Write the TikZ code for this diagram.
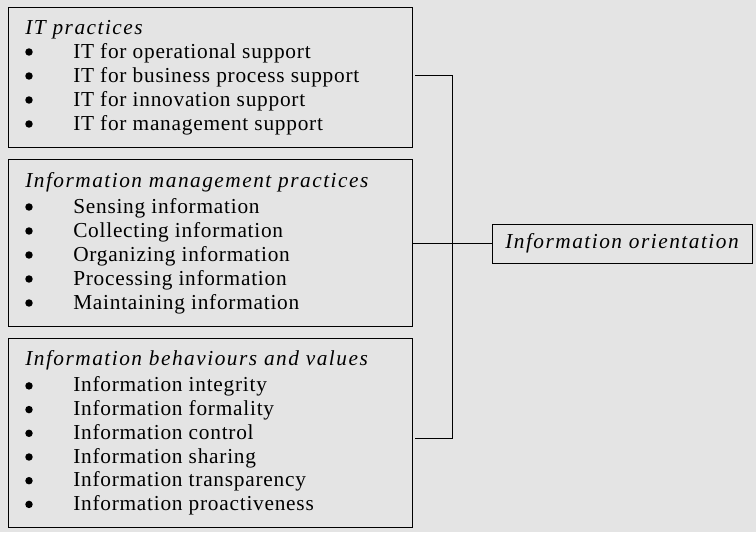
\documentclass[tikz,border=0pt]{standalone}
\usepackage{fontspec}
\setmainfont{Liberation Serif}[LetterSpace=3.5, ItalicFeatures={LetterSpace=7}]
\definecolor{paper}{RGB}{228,228,228}
\newcommand\txtsize{\fontsize{16}{19}\selectfont}
\begin{document}
\begin{tikzpicture}[x=0.75pt,y=-0.75pt,
  panel/.style={draw, line width=0.6pt, fill=paper, inner sep=0pt},
  head/.style={anchor=base west, inner sep=0pt, font=\txtsize\itshape},
  item/.style={anchor=base west, inner sep=0pt, font=\txtsize},
  dot/.style={circle, fill=black, inner sep=0pt, minimum size=5.6pt},
  wire/.style={line width=0.7pt}]

% page background
\fill[paper] (0,0) rectangle (756,532);
\useasboundingbox (0,0) rectangle (756,532);

% the three groups of practices
\node[panel, anchor=north west, minimum width=303pt, minimum height=105pt] (b1) at (8,7) {};
\node[panel, anchor=north west, minimum width=303pt, minimum height=125.25pt] (b2) at (8,159) {};
\node[panel, anchor=north west, minimum width=303pt, minimum height=141.75pt] (b3) at (8,338) {};

% outcome
\node[panel, minimum width=195pt, minimum height=29.25pt, font=\txtsize\itshape] (io) at (622,243.5) {Information orientation};

% group 1
\node[head] (h1) at (25,34) {IT practices};
\foreach \t [count=\i] in {IT for operational support, IT for business process support, IT for innovation support, IT for management support}{
  \node[item] (a\i) at (73,{34+24*\i}) {\t};
  \node[dot] (da\i) at (29,{34+24*\i-6}) {};
}

% group 2
\node[head] (h2) at (25,187) {Information management practices};
\foreach \t [count=\i] in {Sensing information, Collecting information, Organizing information, Processing information, Maintaining information}{
  \node[item] (m\i) at (73,{189+24*\i}) {\t};
  \node[dot] (dm\i) at (29,{189+24*\i-6}) {};
}

% group 3
\node[head] (h3) at (25,365) {Information behaviours and values};
\foreach \t [count=\i] in {Information integrity, Information formality, Information control, Information sharing, Information transparency, Information proactiveness}{
  \node[item] (v\i) at (73,{368.2+23.7*\i}) {\t};
  \node[dot] (dv\i) at (29,{368.2+23.7*\i-6}) {};
}

% bracket joining the groups
\coordinate (j1) at (415,75.5);
\coordinate (j3) at (415,438.5);
\coordinate (top) at (452.5,75.5);
\coordinate (bot) at (452.5,438.5);
\draw[wire] (j1) -- (top) -- (bot) -- (j3);
\draw[wire] (b2.east |- io.west) -- (io.west);
\end{tikzpicture}
\end{document}
